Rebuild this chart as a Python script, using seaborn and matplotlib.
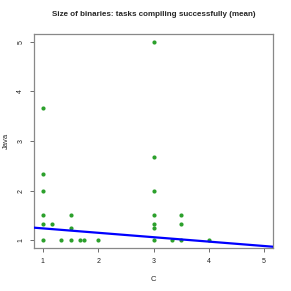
import matplotlib
matplotlib.use("Agg")
import matplotlib.pyplot as plt
import seaborn as sns
import pandas as pd

c_vals = [1, 1, 1, 1, 1, 1, 1.17, 1.33, 1.5, 1.5, 1.5, 1.67, 1.75, 2,
          3, 3, 3, 3, 3, 3, 3, 3.33, 3.5, 3.5, 3.5, 4]
java_vals = [3.67, 2.33, 2, 1.5, 1.33, 1, 1.33, 1, 1.5, 1.25, 1, 1, 1, 1,
             5, 2.67, 2, 1.5, 1.33, 1.25, 1, 1, 1.5, 1.33, 1, 1]
fit_intercept = 1.325
fit_slope = -0.089
x_ticks = [1, 2, 3, 4, 5]
y_ticks = [1, 2, 3, 4, 5]

df = pd.DataFrame({"C": c_vals, "Java": java_vals})

sns.set_style("white")
plt.rcParams['font.family'] = ['Liberation Sans', 'DejaVu Sans']

fig = plt.figure(figsize=(2.91, 2.91), dpi=100)
ax = fig.add_axes([34/291, 1-248/291, 239/291, 214/291])

sns.scatterplot(data=df, x="C", y="Java", color="#2ca02c", s=9, linewidth=0, ax=ax, zorder=3)
ax.axline((0, fit_intercept), slope=fit_slope, color="#0000ff", lw=1.6, zorder=4)

ax.set_xlim(0.84, 5.16)
ax.set_ylim(0.84, 5.16)
ax.set_xticks(x_ticks)
ax.set_yticks(y_ticks)
ax.set_xticklabels([str(t) for t in x_ticks], fontsize=5)
ax.set_yticklabels([str(t) for t in y_ticks], fontsize=5, rotation=90, va="center")
ax.tick_params(axis="both", direction="out", length=3, width=0.6, color="#555555",
               labelcolor="#222222", pad=4, bottom=True, left=True)
for s in ax.spines.values():
    s.set_color("#888888")
    s.set_linewidth(0.9)

ax.set_xlabel("C", fontsize=5.5, labelpad=8)
ax.set_ylabel("Java", fontsize=5.5, labelpad=5)
fig.text(154/291, 1-15/291, "Size of binaries: tasks compiling successfully (mean)",
         ha="center", va="center", fontsize=5.8, fontweight="bold")

fig.savefig("out.png", dpi=100)
